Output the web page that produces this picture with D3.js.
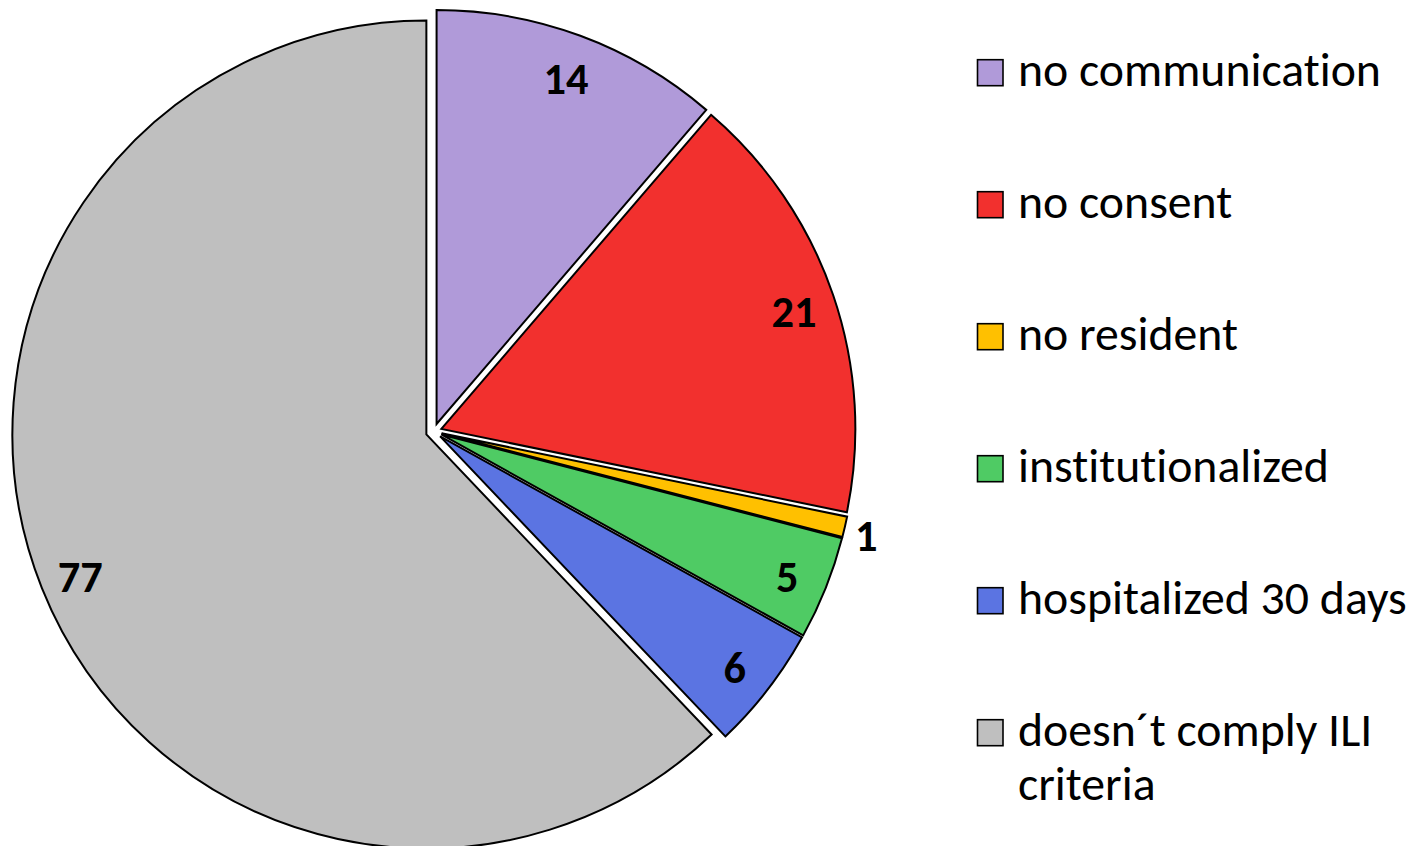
<!DOCTYPE html>
<html><head><meta charset="utf-8">
<script src="https://cdn.jsdelivr.net/npm/d3@7"></script>
<style>body{margin:0;background:#fff} svg{display:block} text{font-variant-ligatures:none;font-feature-settings:"liga" 0,"clig" 0}</style>
</head><body>
<svg id="c" width="1420" height="846"></svg>
<script>
// ---- data ----
const categories = ["no communication","no consent","no resident","institutionalized","hospitalized 30 days","doesn´t comply ILI criteria"];
const values = [14, 21, 1, 5, 6, 77];
const colors = ["#B09AD9","#F2302E","#FFC000","#4FCB64","#5B74E2","#BFBFBF"];
const legendLines = [["no communication"],["no consent"],["no resident"],["institutionalized"],["hospitalized 30 days"],["doesn´t comply ILI","criteria"]];

// ---- layout ----
const FONT = "Carlito, Calibri, Lato, 'Open Sans', sans-serif";
const svg = d3.select("#c");
const cx = 433.8, cy = 431.5, R = 414, explode = 8;
const total = d3.sum(values);

const arcs = d3.pie().sort(null).value(d => d)(values);
const arc = d3.arc().innerRadius(0).outerRadius(R);

const gPie = svg.append("g");
arcs.forEach((a, i) => {
  const mid = (a.startAngle + a.endAngle) / 2;
  const ox = cx + explode * Math.sin(mid), oy = cy - explode * Math.cos(mid);
  const g = gPie.append("g").attr("transform", `translate(${ox},${oy})`);
  g.append("path").attr("d", arc(a)).attr("fill", colors[i])
    .attr("stroke", "#000").attr("stroke-width", 2).attr("stroke-linejoin", "miter");
});

// measure helper
function measure(text, size, weight) {
  const t = svg.append("text").attr("font-family", FONT).attr("font-size", size)
    .attr("font-weight", weight).text(text);
  const w = t.node().getComputedTextLength();
  t.remove();
  return w;
}
const labelSize = 100 * 45 / measure("14", 100, "bold");
const legendSize = 100 * 363 / measure("no communication", 100, "normal");

// labels
arcs.forEach((a, i) => {
  const mid = (a.startAngle + a.endAngle) / 2;
  const ox = cx + explode * Math.sin(mid), oy = cy - explode * Math.cos(mid);
  const frac = values[i] / total < 0.02 ? 1.053 : 0.9;
  const lx = ox + R * frac * Math.sin(mid), ly = oy - R * frac * Math.cos(mid);
  svg.append("text").attr("x", lx).attr("y", ly + 4)
    .attr("text-anchor", "middle").attr("dominant-baseline", "central")
    .attr("font-family", FONT).attr("font-weight", "bold").attr("font-size", labelSize)
    .attr("fill", "#000").text(values[i]);
});

// legend
const legY = d3.scalePoint().domain(d3.range(categories.length)).range([72.7, 732.7]);
categories.forEach((c, i) => {
  const y = legY(i);
  svg.append("rect").attr("x", 977.5).attr("y", y - 13).attr("width", 25.5).attr("height", 26)
    .attr("fill", colors[i]).attr("stroke", "#000").attr("stroke-width", 1.6);
  const t = svg.append("text").attr("x", 1018).attr("y", y + 13)
    .attr("font-family", FONT).attr("font-size", legendSize).attr("fill", "#000");
  legendLines[i].forEach((ln, j) => {
    t.append("tspan").attr("x", 1018).attr("dy", j === 0 ? 0 : 54).text(ln);
  });
});
</script>
</body></html>
